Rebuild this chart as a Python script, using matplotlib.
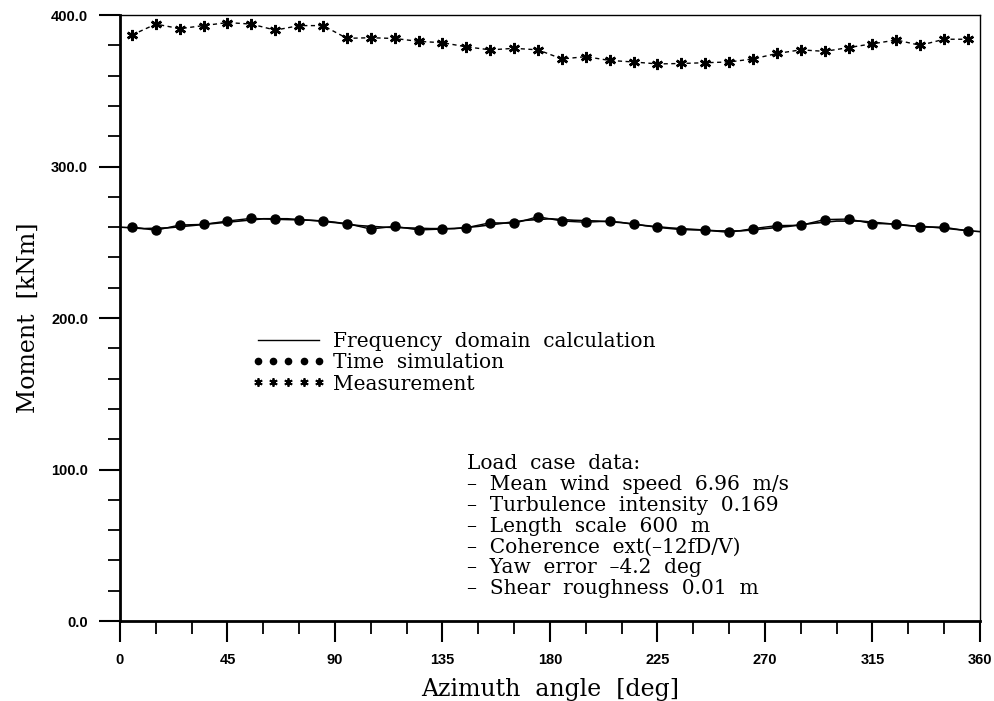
import numpy as np
import matplotlib
matplotlib.use("Agg")
import matplotlib.pyplot as plt
from matplotlib.lines import Line2D

# azimuth bins (deg)
azimuth_pts = np.arange(5, 360, 10)
azimuth_line = np.arange(0, 361, 10)

# measurement [kNm]
measurement = [386.8, 394.0, 391.0, 393.0, 395.0, 394.0, 390.0, 393.0, 393.0,
               384.6, 385.0, 384.5, 382.6, 381.7, 379.0, 377.0, 378.0, 377.0,
               371.0, 372.5, 370.0, 369.0, 367.7, 368.0, 368.5, 369.0, 371.0,
               374.6, 377.0, 376.0, 378.5, 381.0, 383.5, 380.0, 384.0, 384.0]

# time simulation [kNm]
time_sim = [260.1, 257.9, 261.4, 261.8, 264.0, 265.8, 265.1, 264.7, 264.2,
            262.3, 258.7, 260.5, 258.1, 258.7, 259.6, 262.9, 262.5, 266.9,
            264.0, 263.2, 264.0, 262.0, 259.8, 258.3, 258.0, 256.5, 259.0,
            261.0, 261.2, 265.0, 265.3, 262.3, 262.2, 260.0, 260.0, 257.3]

# frequency domain calculation [kNm]
freq_domain = [260.0, 259.0, 259.5, 261.0, 262.5, 264.0, 265.5, 265.5, 264.5,
               263.0, 261.0, 260.0, 259.5, 259.0, 259.0, 260.5, 262.5, 264.5,
               265.5, 264.5, 264.0, 263.0, 261.0, 259.5, 258.5, 257.5, 257.5,
               259.0, 260.5, 262.5, 264.0, 264.0, 262.5, 261.0, 260.0, 258.5,
               257.0]

load_case = ["Load  case  data:",
             "–  Mean  wind  speed  6.96  m/s",
             "–  Turbulence  intensity  0.169",
             "–  Length  scale  600  m",
             "–  Coherence  ext(–12fD/V)",
             "–  Yaw  error  –4.2  deg",
             "–  Shear  roughness  0.01  m"]

serif = "DejaVu Serif"
sans = "Liberation Sans"

fig = plt.figure(figsize=(9.95, 7.01), dpi=100)
ax = fig.add_axes([0.1206, 0.1141, 0.8643, 0.8645])

ax.plot(azimuth_line, freq_domain, color="black", lw=1.2)
ax.plot(azimuth_pts, time_sim, color="black", lw=1.0, marker="o", ms=6.5)
ax.plot(azimuth_pts, measurement, color="black", lw=1.0, ls=(0, (3, 2.5)),
        marker=(6, 2, 0), ms=8, mew=1.8)

ax.set_xlim(0, 360)
ax.set_ylim(0, 400)
ax.set_xticks(np.arange(0, 361, 45))
ax.set_xticks(np.arange(0, 361, 15), minor=True)
ax.set_yticks(np.arange(0, 401, 100))
ax.set_yticks(np.arange(0, 401, 20), minor=True)
ax.set_yticklabels(["%.1f" % v for v in np.arange(0, 401, 100)])

ax.tick_params(which="major", direction="out", length=15, width=1.5, pad=8)
ax.tick_params(which="minor", direction="out", length=9, width=1.3)
for lab in ax.get_xticklabels() + ax.get_yticklabels():
    lab.set_family(sans)
    lab.set_fontweight("bold")
    lab.set_fontsize(10.5)

ax.spines["left"].set_linewidth(2.0)
ax.spines["bottom"].set_linewidth(2.0)
ax.spines["top"].set_linewidth(1.0)
ax.spines["right"].set_linewidth(1.0)

ax.set_xlabel("Azimuth  angle  [deg]", family=serif, fontsize=17, labelpad=8)
ax.set_ylabel("Moment  [kNm]", family=serif, fontsize=17, labelpad=8)

handles = [Line2D([], [], color="black", lw=1.0),
           Line2D([], [], color="black", ls="none", marker="o", ms=4.5),
           Line2D([], [], color="black", ls="none", marker=(6, 2, 0), ms=6, mew=1.3)]
labels = ["Frequency  domain  calculation", "Time  simulation", "Measurement"]
leg = ax.legend(handles, labels, loc="upper left", bbox_to_anchor=(0.142, 0.494),
                frameon=False, numpoints=5, handlelength=3.6, handletextpad=0.4,
                labelspacing=0.12, borderpad=0, prop={"family": serif, "size": 14.5})

ax.text(0.404, 0.275, "\n".join(load_case), transform=ax.transAxes,
        ha="left", va="top", family=serif, fontsize=14.5, linespacing=1.12)

fig.savefig("out.png", dpi=100)
